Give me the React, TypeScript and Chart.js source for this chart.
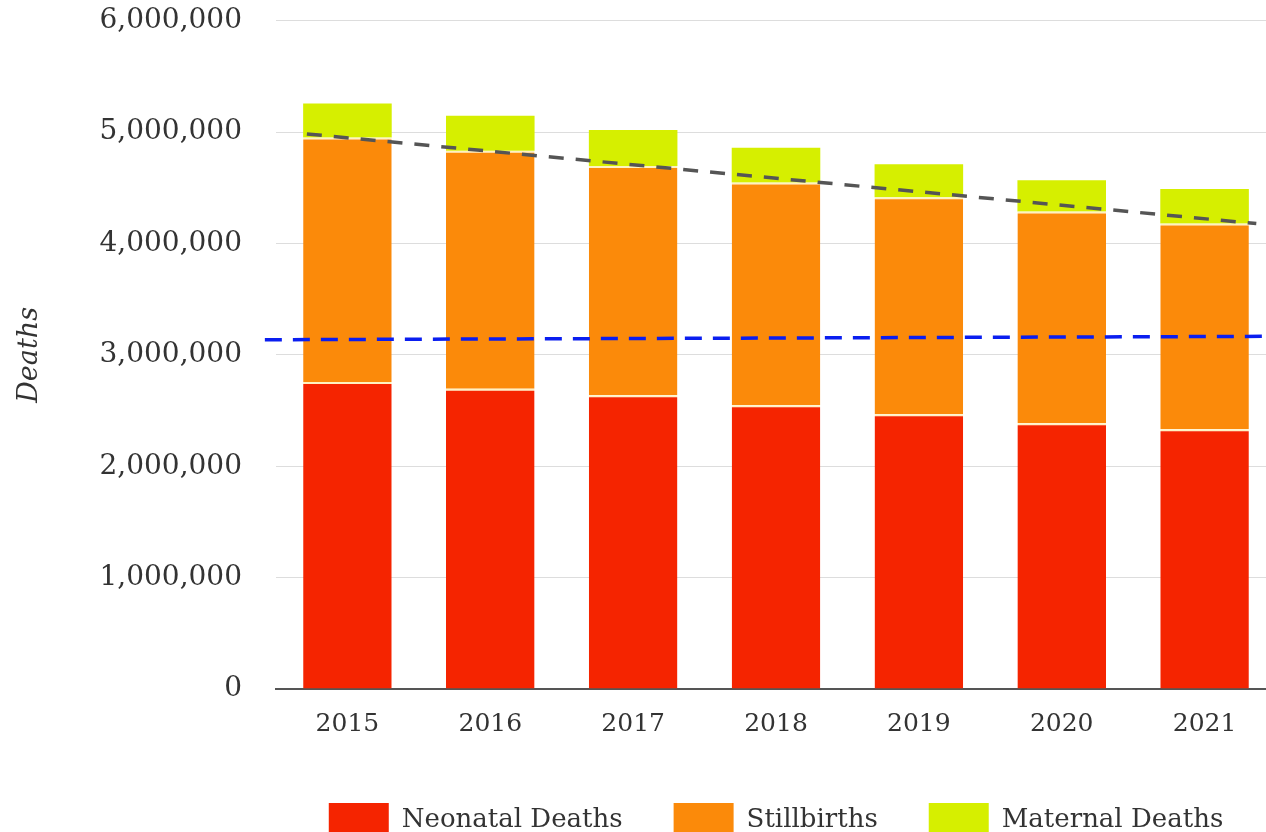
import React, { useEffect, useRef } from "react";
import { Chart, registerables } from "chart.js";

Chart.register(...registerables);

const categories = ["2015", "2016", "2017", "2018", "2019", "2020", "2021"];
const neonatalDeaths = [2756000, 2697000, 2637000, 2548000, 2466000, 2386000, 2332000];
const stillbirths = [2197000, 2137000, 2060000, 1999000, 1949000, 1902000, 1848000];
const maternalDeaths = [305000, 314000, 323000, 314000, 296000, 281000, 309000];

// reference lines, x in category-index units
const trendX = [-0.284, 6.362];
const trendY = [4984000, 4179000];
const baselineX = [-0.578, 6.5];
const baselineY = [3136000, 3167000];

const yTicks = [0, 1000000, 2000000, 3000000, 4000000, 5000000, 6000000];

const FONT = "'DejaVu Serif', Georgia, serif";

export default function App() {
  const ref = useRef<HTMLCanvasElement | null>(null);

  useEffect(() => {
    if (!ref.current) return;
    const chart = new Chart(ref.current, {
      type: "bar",
      data: {
        labels: categories,
        datasets: [
          {
            type: "line",
            label: "trend",
            data: trendX.map((x, i) => ({ x, y: trendY[i] })),
            xAxisID: "xLine",
            stack: "trend",
            borderColor: "#555555",
            borderWidth: 3.5,
            borderDash: [15, 12],
            pointRadius: 0,
            fill: false,
            clip: false,
            order: 0,
          } as any,
          {
            type: "line",
            label: "baseline",
            data: baselineX.map((x, i) => ({ x, y: baselineY[i] })),
            xAxisID: "xLine",
            stack: "baseline",
            borderColor: "#0a1ef0",
            borderWidth: 3.5,
            borderDash: [17, 11],
            pointRadius: 0,
            fill: false,
            clip: false,
            order: 0,
          } as any,
          {
            label: "Neonatal Deaths",
            data: neonatalDeaths,
            backgroundColor: "#F52400",
            borderColor: "#FFF2C0",
            borderWidth: { top: 2, left: 0, right: 0, bottom: 0 },
            borderSkipped: false,
            stack: "s",
            order: 1,
          },
          {
            label: "Stillbirths",
            data: stillbirths,
            backgroundColor: "#FB8A0A",
            borderColor: "#FFF2C0",
            borderWidth: { top: 2, left: 0, right: 0, bottom: 0 },
            borderSkipped: false,
            stack: "s",
            order: 1,
          },
          {
            label: "Maternal Deaths",
            data: maternalDeaths,
            backgroundColor: "#D6EF00",
            borderWidth: 0,
            stack: "s",
            order: 1,
          },
        ],
      },
      options: {
        animation: false,
        responsive: true,
        maintainAspectRatio: false,
        datasets: { bar: { barPercentage: 0.62, categoryPercentage: 1, grouped: false } },
        layout: { padding: { top: 0, left: 0, right: 0, bottom: 0 } },
        plugins: {
          tooltip: { enabled: false },
          legend: {
            position: "bottom",
            fullSize: false,
            labels: {
              font: { family: FONT, size: 26 },
              color: "#333333",
              boxWidth: 60,
              boxHeight: 34,
              padding: 51,
              generateLabels: (c: any) =>
                (Chart.defaults.plugins.legend.labels as any)
                  .generateLabels(c)
                  .filter((l: any) => l.datasetIndex >= 2)
                  .map((l: any) => ({ ...l, lineWidth: 0 })),
            },
          },
        },
        scales: {
          x: {
            type: "category",
            stacked: true,
            grid: { display: false, drawTicks: false },
            border: { display: true, color: "#555555", width: 2 },
            ticks: {
              font: { family: FONT, size: 25 },
              color: "#333333",
              padding: 20,
              maxRotation: 0,
            },
            afterFit: (s: any) => {
              s.height = 63;
            },
          },
          xLine: {
            type: "linear",
            display: false,
            min: -0.5,
            max: 6.5,
            offset: false,
          },
          y: {
            stacked: true,
            min: 0,
            max: 6000000,
            afterBuildTicks: (s: any) => {
              s.ticks = yTicks.map((v) => ({ value: v }));
            },
            grid: { color: "#dddddd", lineWidth: 1, drawTicks: false },
            border: { display: false },
            ticks: {
              font: { family: FONT, size: 28 },
              color: "#333333",
              padding: 34,
              callback: (v: any) => Number(v).toLocaleString("en-US"),
            },
            title: {
              display: true,
              text: "Deaths",
              font: { family: FONT, size: 27, style: "italic" },
              color: "#333333",
              padding: { top: 14, bottom: 0 },
            },
            afterFit: (s: any) => {
              s.width = 276;
            },
          },
        },
      } as any,
    });
    return () => chart.destroy();
  }, []);

  return (
    <div
      style={{
        position: "absolute",
        left: 0,
        top: 0,
        width: 1266,
        height: 832,
        overflow: "hidden",
        background: "#fff",
      }}
    >
      <div style={{ position: "relative", width: 1276, height: 877, marginTop: -30 }}>
        <canvas ref={ref} />
      </div>
    </div>
  );
}
